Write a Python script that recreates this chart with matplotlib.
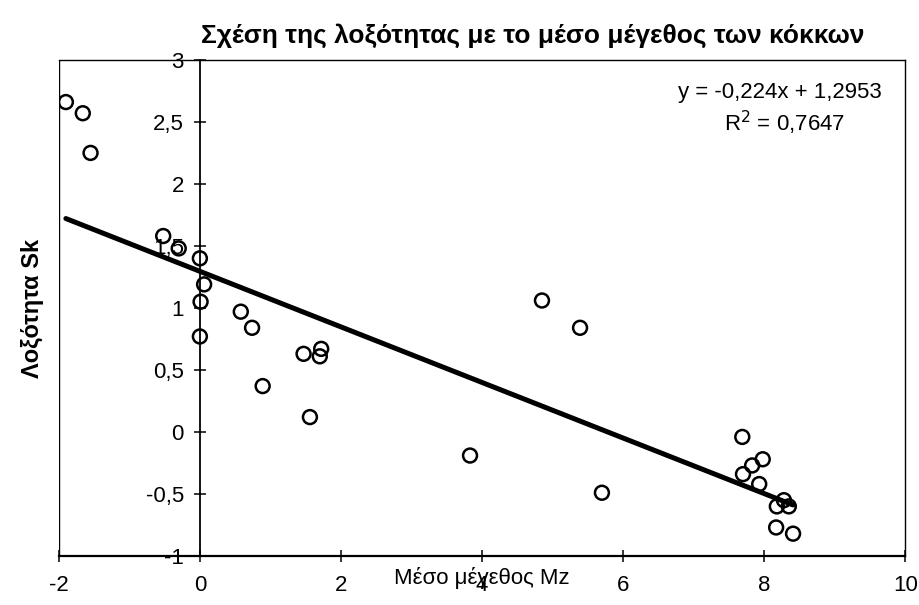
import matplotlib
matplotlib.use("Agg")
import matplotlib.pyplot as plt
import numpy as np
from matplotlib.ticker import FuncFormatter

plt.rcParams['font.family'] = ['Liberation Sans', 'DejaVu Sans']

# Μέσο μέγεθος Mz (x) και Λοξότητα Sk (y)
mz = [-1.90, -1.66, -1.55, -0.52, -0.30, 0.00, 0.06, 0.01, 0.00,
      0.58, 0.74, 0.89, 1.47, 1.72, 1.70, 1.56,
      3.83, 4.85, 5.39, 5.70,
      7.69, 7.98, 7.83, 7.70, 7.93, 8.28, 8.18, 8.35, 8.17, 8.41]
sk = [2.66, 2.57, 2.25, 1.58, 1.48, 1.40, 1.19, 1.05, 0.77,
      0.97, 0.84, 0.37, 0.63, 0.67, 0.61, 0.12,
      -0.19, 1.06, 0.84, -0.49,
      -0.04, -0.22, -0.27, -0.34, -0.42, -0.55, -0.60, -0.60, -0.77, -0.82]

slope = -0.224
intercept = 1.2953
r2 = 0.7647

x_ticks = [-2, 0, 2, 4, 6, 8, 10]
y_ticks = [-1, -0.5, 0, 0.5, 1, 1.5, 2, 2.5, 3]

fig = plt.figure(figsize=(9.19, 6.05), dpi=100)
ax = fig.add_axes([0.064, 0.081, 0.921, 0.820])

ax.scatter(mz, sk, s=100, facecolors='none', edgecolors='black', linewidths=1.8, zorder=3)

xl = np.array([min(mz), max(mz)])
ax.plot(xl, slope * xl + intercept, color='black', lw=3.6, solid_capstyle='round', zorder=4)

ax.set_xlim(-2, 10)
ax.set_ylim(-1, 3)
ax.set_xticks(x_ticks)
ax.set_yticks(y_ticks)

comma = FuncFormatter(lambda v, p: ('%g' % v).replace('.', ','))
ax.xaxis.set_major_formatter(comma)
ax.yaxis.set_major_formatter(comma)

# y axis crosses at x = 0, box frame around the plot area
ax.spines['left'].set_position(('data', 0))
ax.spines['left'].set_linewidth(1.3)
ax.spines['bottom'].set_linewidth(1.6)
ax.spines['top'].set_linewidth(1.0)
ax.spines['right'].set_linewidth(1.0)
ax.axvline(-2, color='black', lw=1.0)

ax.tick_params(axis='both', direction='inout', length=9, width=1.1, labelsize=16)
ax.tick_params(axis='x', pad=9)
ax.tick_params(axis='y', pad=7)

ax.set_title('Σχέση της λοξότητας με το μέσο μέγεθος των κόκκων',
             fontsize=19, fontweight='bold', pad=12, x=0.56)
ax.set_xlabel('Μέσο μέγεθος Mz', fontsize=16)
ax.xaxis.set_label_coords(0.5, -0.022)
ax.set_ylabel('Λοξότητα Sk', fontsize=17, fontweight='bold')
ax.yaxis.set_label_coords(-0.018, 0.5)

ax.text(0.852, 0.935, 'y = -0,224x + 1,2953', transform=ax.transAxes,
        ha='center', va='center', fontsize=16)
ax.text(0.857, 0.873, 'R$^2$ = 0,7647', transform=ax.transAxes,
        ha='center', va='center', fontsize=16)

fig.savefig('out.png', dpi=100)
